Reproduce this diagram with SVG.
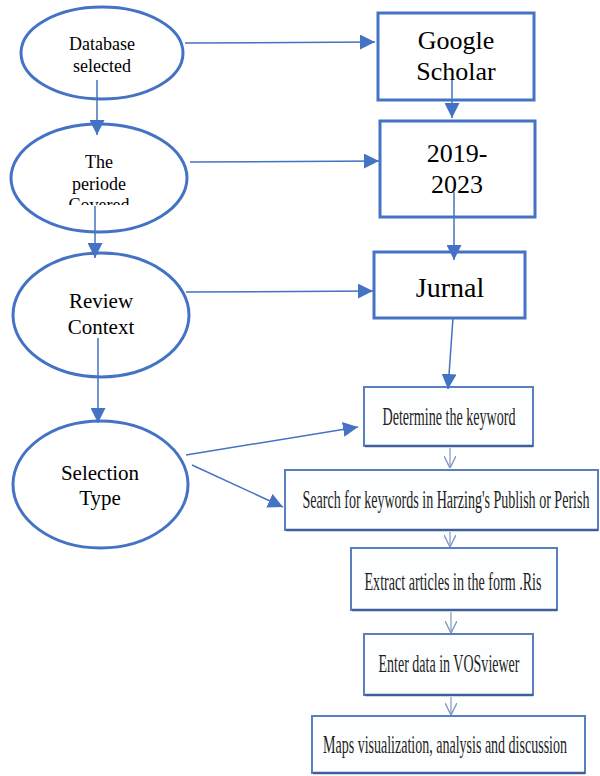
<svg xmlns="http://www.w3.org/2000/svg" width="600" height="776" viewBox="0 0 600 776">
<defs>
<style>
.ell{fill:#fff;stroke:#4472C4;stroke-width:3}
.box{fill:#fff;stroke:#4472C4;stroke-width:3}
.fbox{fill:#fdfeff;stroke:#5a7fbf;stroke-width:2}
.fshadow{fill:none;stroke:#3f5f9a;stroke-width:2.5}
text{font-family:'Liberation Serif','Times New Roman',Tinos,serif}
.t{fill:#000;text-anchor:middle}
.ft{fill:#1e1e1e;text-anchor:middle;font-size:14px}
.con{fill:none;stroke:#4472C4;stroke-width:1.5}
.open{fill:none;stroke:#8099c4;stroke-width:1.2}
</style>
<marker id="ahb" viewBox="0 0 10 10" refX="10" refY="5" markerWidth="15" markerHeight="15" markerUnits="userSpaceOnUse" orient="auto">
<path d="M0,0 L10,5 L0,10 Z" fill="#4472C4"/>
</marker>
<marker id="oh" viewBox="0 0 10 10" refX="10" refY="5" markerWidth="12" markerHeight="12" markerUnits="userSpaceOnUse" orient="auto">
<path d="M0,0 L10,5 L0,10" fill="none" stroke="#8099c4" stroke-width="1.2"/>
</marker>
<clipPath id="clip2"><rect x="40" y="140" width="120" height="65"/></clipPath>
</defs>

<g id="n-database">
<ellipse class="ell" cx="102" cy="53" rx="81" ry="46"/>
<text class="t" font-size="18" x="102" y="50">Database</text>
<text class="t" font-size="18" x="102" y="72">selected</text>
</g>
<g id="n-periode">
<ellipse class="ell" cx="99" cy="178" rx="88" ry="54"/>
<g clip-path="url(#clip2)">
<text class="t" font-size="18" x="99" y="168">The</text>
<text class="t" font-size="18" x="99" y="190">periode</text>
<text class="t" font-size="18" x="99" y="211">Covered</text>
</g>
</g>
<g id="n-review">
<ellipse class="ell" cx="101" cy="315" rx="88" ry="62"/>
<text class="t" font-size="21" x="101" y="308">Review</text>
<text class="t" font-size="21" x="101" y="334">Context</text>
</g>
<g id="n-selection">
<ellipse class="ell" cx="100.5" cy="484.5" rx="87.5" ry="63.5"/>
<text class="t" font-size="21" x="100" y="480">Selection</text>
<text class="t" font-size="21" x="100" y="505">Type</text>
</g>

<g id="n-google">
<rect class="box" x="378" y="13" width="156" height="87"/>
<text class="t" font-size="26" x="456" y="49">Google</text>
<text class="t" font-size="26" x="456" y="80">Scholar</text>
</g>
<g id="n-years">
<rect class="box" x="380" y="121" width="155" height="96"/>
<text class="t" font-size="26" x="457" y="162">2019-</text>
<text class="t" font-size="26" x="457" y="193">2023</text>
</g>
<g id="n-jurnal">
<rect class="box" x="374" y="252" width="151" height="66"/>
<text class="t" font-size="28" x="450" y="297">Jurnal</text>
</g>

<g id="n-determine">
<rect class="fbox" x="364" y="387" width="169" height="59"/>
<line class="fshadow" x1="365" y1="446" x2="533" y2="446"/>
<text class="ft" transform="translate(449,425) scale(1,1.75)" x="0" y="0" textLength="133" lengthAdjust="spacingAndGlyphs">Determine the keyword</text>
</g>
<g id="n-search">
<rect class="fbox" x="285" y="470" width="313" height="60"/>
<line class="fshadow" x1="286" y1="530" x2="598" y2="530"/>
<text class="ft" transform="translate(446,508) scale(1,1.75)" x="0" y="0" textLength="287" lengthAdjust="spacingAndGlyphs">Search for keywords in Harzing's Publish or Perish</text>
</g>
<g id="n-extract">
<rect class="fbox" x="351" y="548" width="206" height="62"/>
<line class="fshadow" x1="352" y1="610" x2="557" y2="610"/>
<text class="ft" transform="translate(453,590) scale(1,1.75)" x="0" y="0" textLength="177" lengthAdjust="spacingAndGlyphs">Extract articles in the form .Ris</text>
</g>
<g id="n-enter">
<rect class="fbox" x="364" y="634" width="169" height="61"/>
<line class="fshadow" x1="365" y1="695" x2="533" y2="695"/>
<text class="ft" transform="translate(449,672) scale(1,1.75)" x="0" y="0" textLength="141" lengthAdjust="spacingAndGlyphs">Enter data in VOSviewer</text>
</g>
<g id="n-maps">
<rect class="fbox" x="312" y="716" width="273" height="57"/>
<line class="fshadow" x1="313" y1="773" x2="585" y2="773"/>
<text class="ft" transform="translate(445,753) scale(1,1.75)" x="0" y="0" textLength="244" lengthAdjust="spacingAndGlyphs">Maps visualization, analysis and discussion</text>
</g>

<g id="connectors">
<line class="con" x1="97" y1="80" x2="97" y2="135" marker-end="url(#ahb)"/>
<line class="con" x1="95" y1="206" x2="95" y2="258" marker-end="url(#ahb)"/>
<line class="con" x1="98" y1="338" x2="98" y2="423" marker-end="url(#ahb)"/>
<line class="con" x1="185" y1="43" x2="375" y2="42" marker-end="url(#ahb)"/>
<line class="con" x1="190" y1="162" x2="379" y2="161" marker-end="url(#ahb)"/>
<line class="con" x1="186" y1="292" x2="373" y2="291" marker-end="url(#ahb)"/>
<line class="con" x1="186" y1="455" x2="358" y2="427" marker-end="url(#ahb)"/>
<line class="con" x1="192" y1="465" x2="283" y2="507" marker-end="url(#ahb)"/>
<line class="con" x1="452" y1="80" x2="452" y2="118" marker-end="url(#ahb)"/>
<line class="con" x1="454" y1="192" x2="454" y2="260" marker-end="url(#ahb)"/>
<line class="con" x1="453" y1="318" x2="448" y2="389" marker-end="url(#ahb)"/>
<line class="open" x1="450" y1="448" x2="450" y2="468" marker-end="url(#oh)"/>
<line class="open" x1="450" y1="532" x2="450" y2="547" marker-end="url(#oh)"/>
<line class="open" x1="451" y1="612" x2="451" y2="633" marker-end="url(#oh)"/>
<line class="open" x1="451" y1="697" x2="451" y2="715" marker-end="url(#oh)"/>
</g>
</svg>
